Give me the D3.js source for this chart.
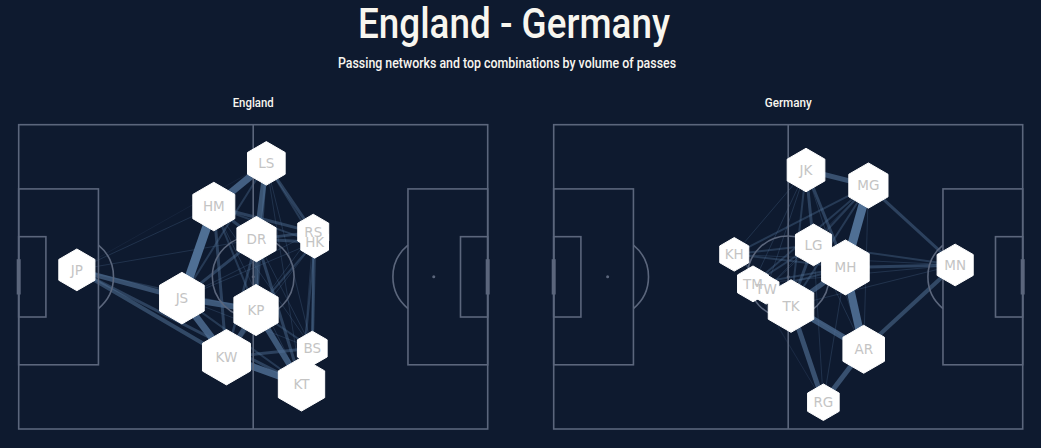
<!DOCTYPE html>
<html>
<head>
<meta charset="utf-8">
<script src="https://cdn.jsdelivr.net/npm/d3@7"></script>
<style>
  html, body { margin: 0; padding: 0; background: #0e1a2f; }
  svg { display: block; }
</style>
</head>
<body>
<div id="chart_div"></div>
<script>
// Teams shown side by side
const teams = ["England", "Germany"];

// Average positions (Opta coords, 0-100, y up) and pass volume per player
const englandPlayers = ["JP", "JS", "HM", "LS", "DR", "RS", "HK", "KP", "KW", "BS", "KT"];
const englandX = [12.4, 34.8, 41.6, 52.8, 50.7, 62.8, 63.1, 50.6, 44.3, 62.6, 60.3];
const englandY = [52.3, 43.0, 73.1, 87.3, 62.4, 64.7, 61.4, 39.1, 23.6, 26.5, 14.7];
const englandPasses = [34, 52, 46, 37, 40, 25, 20, 51, 60, 23, 56];

const germanyPlayers = ["JK", "MG", "LG", "MH", "KH", "TM", "TW", "TK", "MN", "AR", "RG"];
const germanyX = [53.8, 67.1, 55.4, 62.2, 38.5, 42.5, 45.3, 50.6, 85.6, 66.1, 57.5];
const germanyY = [85.1, 80.0, 60.5, 53.1, 57.4, 47.7, 45.9, 40.4, 53.9, 26.2, 8.8];
const germanyPasses = [37, 40, 34, 59, 22, 25, 17, 54, 34, 45, 26];

// Pass combinations: [player A, player B, passes between them]
const englandLinks = [
  ["HM", "JS", 18], ["LS", "HM", 14], ["LS", "DR", 11], ["JS", "KW", 14],
  ["KW", "KT", 14], ["JS", "KP", 12], ["JP", "JS", 10], ["JP", "KW", 8],
  ["JP", "KT", 6], ["KP", "KT", 12], ["KP", "DR", 8], ["KW", "KP", 10],
  ["JS", "DR", 6], ["HM", "DR", 6], ["HM", "RS", 6], ["HM", "HK", 4],
  ["LS", "RS", 6], ["LS", "HK", 4], ["DR", "RS", 6], ["DR", "HK", 6],
  ["HK", "BS", 6], ["RS", "BS", 4], ["BS", "KT", 6], ["KW", "BS", 6],
  ["HM", "KW", 6], ["HM", "KP", 4], ["DR", "KT", 6], ["DR", "KW", 5],
  ["KP", "BS", 4], ["JS", "LS", 4], ["JP", "HM", 2], ["JP", "DR", 2],
  ["JP", "LS", 1], ["JP", "KP", 3], ["KP", "HK", 4], ["JS", "HK", 2],
  ["JS", "RS", 2], ["JS", "KT", 4], ["HM", "KT", 2], ["LS", "KT", 2],
  ["LS", "BS", 2], ["RS", "KT", 2], ["HK", "KT", 4], ["DR", "BS", 2],
  ["KW", "HK", 2], ["JS", "BS", 2], ["KP", "RS", 2], ["HM", "BS", 2],
  ["LS", "KP", 5]
];

const germanyLinks = [
  ["MG", "MH", 18], ["MH", "AR", 16], ["TK", "AR", 12], ["TK", "RG", 10],
  ["RG", "AR", 10], ["AR", "MN", 8], ["JK", "MG", 10], ["MG", "MN", 6],
  ["JK", "MH", 6], ["JK", "LG", 6], ["JK", "TK", 4], ["MH", "MN", 6],
  ["LG", "MN", 4], ["TK", "MH", 10], ["TK", "LG", 6], ["KH", "MH", 4],
  ["KH", "LG", 4], ["KH", "MG", 4], ["TM", "MG", 4], ["TM", "LG", 4],
  ["TM", "MH", 4], ["TW", "MH", 4], ["KH", "TK", 4], ["KH", "JK", 2],
  ["TM", "JK", 2], ["TK", "MG", 4], ["LG", "MH", 4], ["LG", "MG", 4],
  ["TK", "MN", 2], ["RG", "MH", 2], ["RG", "KH", 1], ["RG", "TM", 1],
  ["RG", "LG", 2], ["AR", "MG", 2], ["AR", "LG", 2], ["TK", "TM", 2],
  ["TK", "TW", 2], ["JK", "AR", 2], ["KH", "MN", 2], ["TM", "MN", 2],
  ["TW", "JK", 2], ["TW", "MG", 2], ["TW", "LG", 2], ["TW", "AR", 2]
];

const W = 1041, H = 448;
const bg = "#0e1a2f";
const lineColor = "#5b667c";
const edgeColor = "#4f6f94";

const svg = d3.select("#chart_div").append("svg")
  .attr("width", W)
  .attr("height", H);

svg.append("rect").attr("width", W).attr("height", H).attr("fill", bg);

// Titles
svg.append("text")
  .attr("x", 514).attr("y", 38)
  .attr("text-anchor", "middle")
  .attr("font-family", "Roboto, sans-serif")
  .attr("font-weight", 500)
  .attr("font-size", 42)
  .attr("fill", "#f8f6ef")
  .attr("textLength", 312)
  .attr("lengthAdjust", "spacingAndGlyphs")
  .text("England - Germany");

svg.append("text")
  .attr("x", 507).attr("y", 68)
  .attr("text-anchor", "middle")
  .attr("font-family", "Roboto, sans-serif")
  .attr("font-weight", 500)
  .attr("font-size", 14)
  .attr("fill", "#f8f6ef")
  .attr("textLength", 338)
  .attr("lengthAdjust", "spacingAndGlyphs")
  .text("Passing networks and top combinations by volume of passes");

const panels = [
  { name: teams[0], x0: 18.7, players: englandPlayers, xs: englandX, ys: englandY, passes: englandPasses, links: englandLinks, titleLen: 41 },
  { name: teams[1], x0: 553.7, players: germanyPlayers, xs: germanyX, ys: germanyY, passes: germanyPasses, links: germanyLinks, titleLen: 47 }
];

const pitchW = 469, pitchTop = 124.7, pitchBottom = 429;

// Node size and edge scales, shared by both teams
const rScale = d3.scaleSqrt().domain([0, 60]).range([0, 27.7]);
const maxLink = d3.max(panels, p => d3.max(p.links, l => l[2]));
const wScale = d3.scaleLinear().domain([0, maxLink]).range([0, 9]);
const aScale = d3.scaleLinear().domain([0, maxLink]).range([0.2, 1]);

function hexPath(r) {
  const pts = d3.range(6).map(i => {
    const a = (-90 + 60 * i) * Math.PI / 180;
    return [r * Math.cos(a), r * Math.sin(a)];
  });
  return "M" + pts.map(p => p.join(",")).join("L") + "Z";
}

panels.forEach(p => {
  const x = d3.scaleLinear().domain([0, 100]).range([p.x0, p.x0 + pitchW]);
  const y = d3.scaleLinear().domain([0, 100]).range([pitchBottom, pitchTop]);
  const cx = (p.x0 + p.x0 + pitchW) / 2;

  svg.append("text")
    .attr("x", cx).attr("y", 106.5)
    .attr("text-anchor", "middle")
    .attr("font-family", "Roboto, sans-serif")
    .attr("font-weight", 500)
    .attr("font-size", 13)
    .attr("fill", "#f8f6ef")
    .attr("textLength", p.titleLen)
    .attr("lengthAdjust", "spacingAndGlyphs")
    .text(p.name);

  const g = svg.append("g");

  // Edges, thin ones first
  const pos = {};
  p.players.forEach((name, i) => { pos[name] = [x(p.xs[i]), y(p.ys[i])]; });
  const links = p.links.slice().sort((a, b) => a[2] - b[2]);
  g.append("g").selectAll("line")
    .data(links)
    .join("line")
    .attr("x1", d => pos[d[0]][0])
    .attr("y1", d => pos[d[0]][1])
    .attr("x2", d => pos[d[1]][0])
    .attr("y2", d => pos[d[1]][1])
    .attr("stroke", edgeColor)
    .attr("stroke-width", d => wScale(d[2]))
    .attr("stroke-opacity", d => aScale(d[2]));

  // Pitch markings
  const pitch = g.append("g")
    .attr("fill", "none")
    .attr("stroke", lineColor)
    .attr("stroke-width", 1.6);

  pitch.append("rect")
    .attr("x", x(0)).attr("y", y(100))
    .attr("width", x(100) - x(0)).attr("height", y(0) - y(100));
  pitch.append("line")
    .attr("x1", x(50)).attr("x2", x(50))
    .attr("y1", y(0)).attr("y2", y(100));

  const circR = x(50 + 9.15 / 105 * 100) - x(50);
  pitch.append("circle").attr("cx", x(50)).attr("cy", y(50)).attr("r", circR);
  pitch.append("circle").attr("cx", x(50)).attr("cy", y(50)).attr("r", 1.5)
    .attr("fill", lineColor).attr("stroke", "none");

  [[0, 17, 5.8, 11.5, 1], [100, 83, 94.2, 88.5, -1]].forEach(([gx, bx, sx, px, dir]) => {
    pitch.append("rect")
      .attr("x", Math.min(x(gx), x(bx))).attr("y", y(78.9))
      .attr("width", Math.abs(x(bx) - x(gx))).attr("height", y(21.1) - y(78.9));
    pitch.append("rect")
      .attr("x", Math.min(x(gx), x(sx))).attr("y", y(63.2))
      .attr("width", Math.abs(x(sx) - x(gx))).attr("height", y(36.8) - y(63.2));
    pitch.append("circle").attr("cx", x(px)).attr("cy", y(50)).attr("r", 1.5)
      .attr("fill", lineColor).attr("stroke", "none");
    const ang = Math.acos(Math.abs(x(bx) - x(px)) / circR);
    const arc = d3.arc()
      .innerRadius(circR).outerRadius(circR)
      .startAngle(Math.PI / 2 - ang).endAngle(Math.PI / 2 + ang);
    pitch.append("path")
      .attr("d", arc())
      .attr("transform", `translate(${x(px)},${y(50)}) scale(${dir},1)`);
    pitch.append("line")
      .attr("x1", x(gx)).attr("x2", x(gx))
      .attr("y1", y(44.2)).attr("y2", y(55.8))
      .attr("stroke-width", 4);
  });

  // Player nodes
  const nodes = p.players.map((name, i) => ({ name, x: x(p.xs[i]), y: y(p.ys[i]), n: p.passes[i] }));
  g.append("g").selectAll("path")
    .data(nodes)
    .join("path")
    .attr("d", d => hexPath(rScale(d.n)))
    .attr("transform", d => `translate(${d.x},${d.y})`)
    .attr("fill", "#ffffff")
    .attr("stroke", "#ffffff")
    .attr("stroke-width", 1);

  g.append("g").selectAll("text")
    .data(nodes)
    .join("text")
    .attr("x", d => d.x)
    .attr("y", d => d.y)
    .attr("dy", "0.36em")
    .attr("text-anchor", "middle")
    .attr("font-family", "DejaVu Sans, sans-serif")
    .attr("font-size", 13.5)
    .attr("fill", "#c4c4c4")
    .text(d => d.name);
});
</script>
</body>
</html>
